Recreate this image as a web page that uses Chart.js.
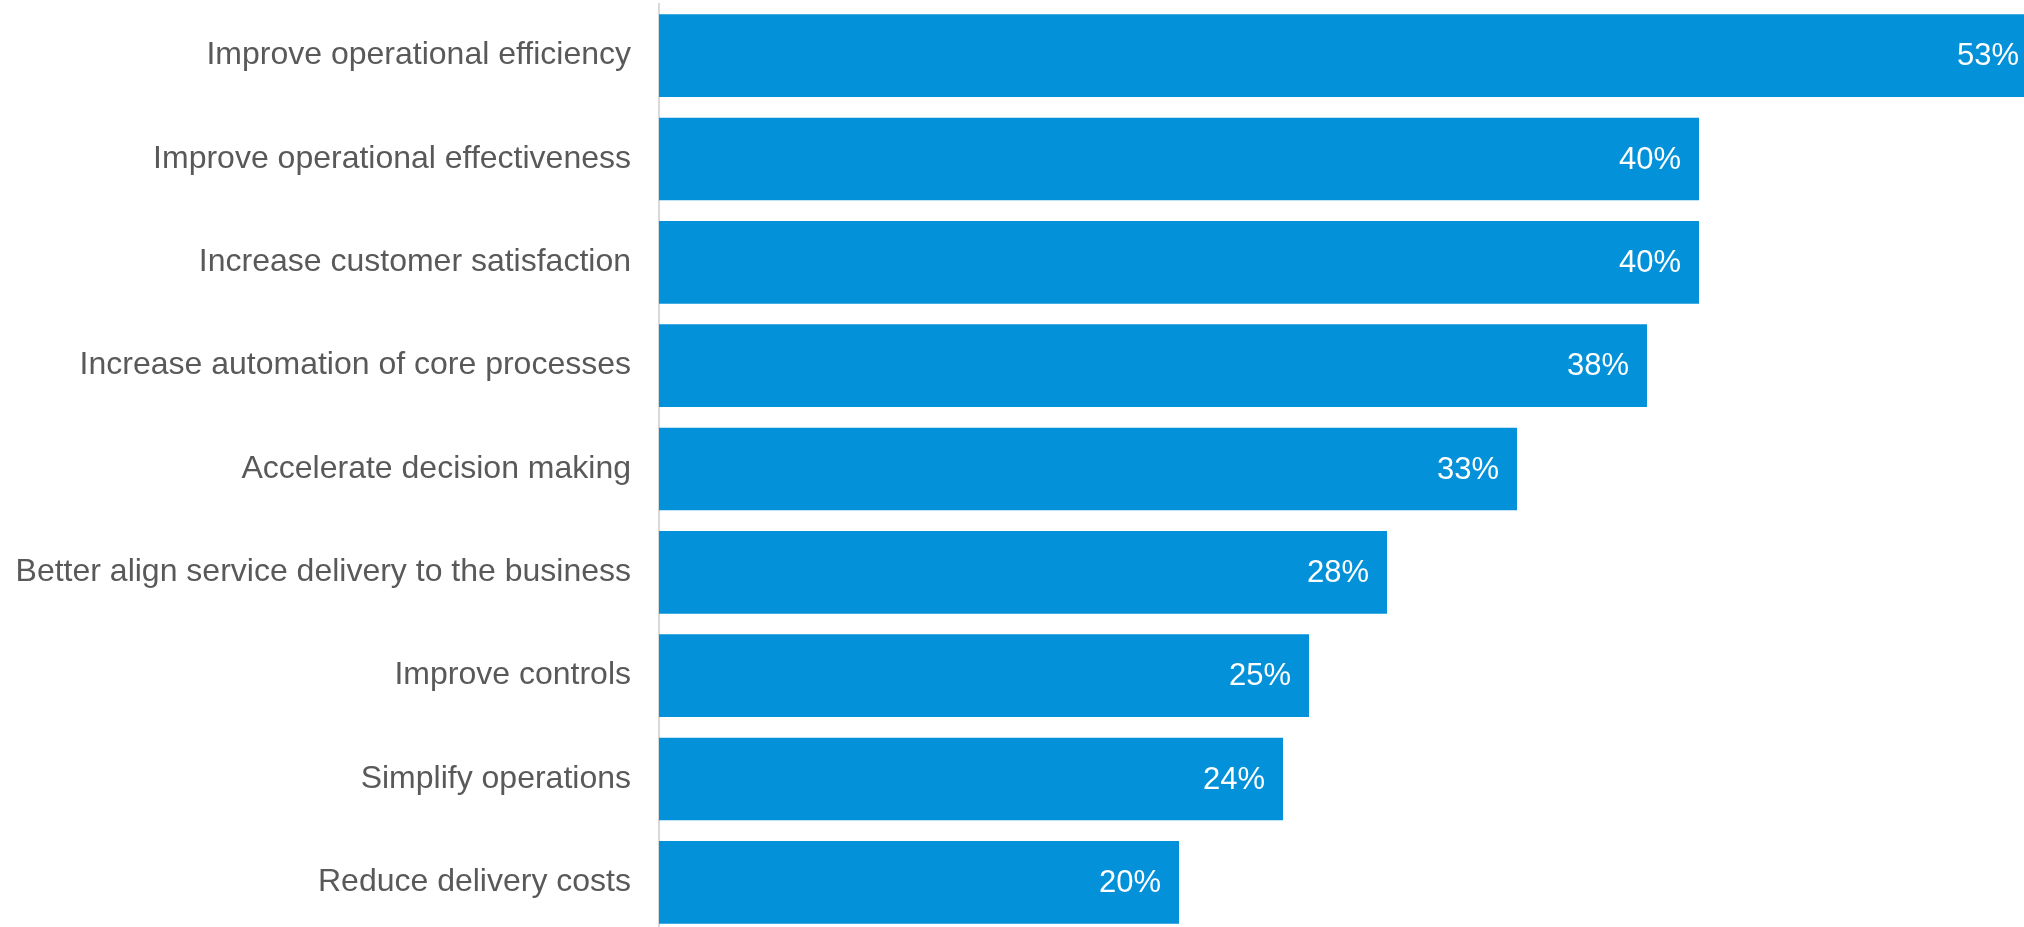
<!DOCTYPE html>
<html>
<head>
<meta charset="utf-8">
<title>Priorities</title>
<script src="https://cdn.jsdelivr.net/npm/chart.js@4/dist/chart.umd.min.js"></script>
<style>
  html, body { margin: 0; padding: 0; background: #fff; overflow: hidden; }
  #wrap { width: 2063px; height: 934px; }
</style>
</head>
<body>
<div id="wrap">
  <canvas id="priorities-chart" width="2063" height="934"></canvas>
</div>
<script>
const categories = [
  "Improve operational efficiency",
  "Improve operational effectiveness",
  "Increase customer satisfaction",
  "Increase automation of core processes",
  "Accelerate decision making",
  "Better align service delivery to the business",
  "Improve controls",
  "Simplify operations",
  "Reduce delivery costs"
];
const shares = [53, 40, 40, 38, 33, 28, 25, 24, 20];

// white percentage text just inside the end of each bar
const valueLabels = {
  id: "valueLabels",
  afterDatasetsDraw(chart) {
    const ctx = chart.ctx;
    const meta = chart.getDatasetMeta(0);
    ctx.save();
    ctx.font = "31px 'Liberation Sans', Arial, sans-serif";
    ctx.fillStyle = "#ffffff";
    ctx.textAlign = "right";
    ctx.textBaseline = "middle";
    meta.data.forEach((bar, i) => {
      ctx.fillText(shares[i] + "%", bar.x - 18, bar.y + 1);
    });
    ctx.restore();
  }
};

const chartElement = document.getElementById("priorities-chart");
const prioritiesChart = new Chart(chartElement, {
  type: "bar",
  data: {
    labels: categories,
    datasets: [
      {
        data: shares,
        backgroundColor: "#0391da",
        borderWidth: 0,
        categoryPercentage: 1,
        barPercentage: 0.8
      }
    ]
  },
  options: {
    indexAxis: "y",
    responsive: false,
    animation: false,
    layout: { padding: { top: 4, right: 0, bottom: 0, left: 0 } },
    plugins: {
      legend: { display: false },
      tooltip: { enabled: false }
    },
    scales: {
      x: {
        display: false,
        min: 0,
        max: 54
      },
      y: {
        afterFit(scale) {
          // fixed gutter for the labels, no extra room above/below
          scale.width = 659;
          scale.paddingTop = 0;
          scale.paddingBottom = 0;
        },
        grid: { display: false, drawTicks: false },
        border: { display: true, color: "#d9d9d9", width: 2 },
        ticks: {
          padding: 28,
          color: "#595959",
          font: { family: "'Liberation Sans', Arial, sans-serif", size: 32 }
        }
      }
    }
  },
  plugins: [valueLabels]
});
</script>
</body>
</html>
